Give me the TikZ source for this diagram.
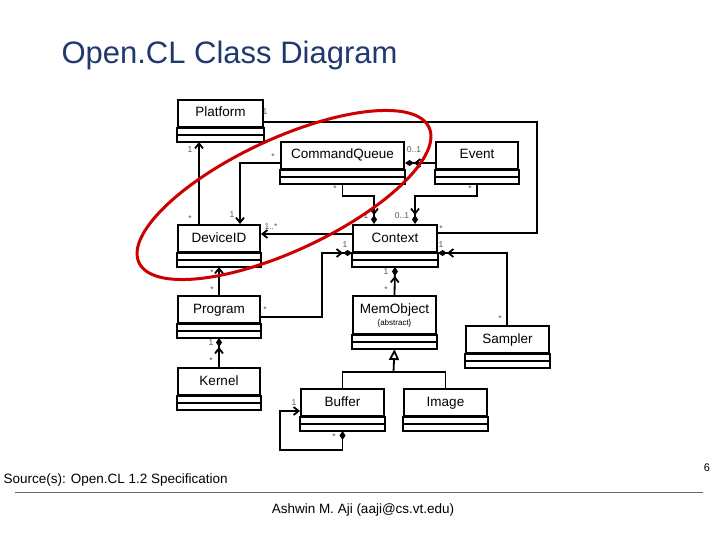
\documentclass[tikz,border=0pt]{standalone}
\usepackage{fontspec}
\setmainfont{Liberation Sans}
\usetikzlibrary{positioning,calc,arrows.meta}
\definecolor{titleblue}{RGB}{31,56,110}
\tikzset{
    % class name compartment
    cls/.style={draw, line width=2pt, rectangle, anchor=north west,
                minimum height=27pt, inner sep=0pt, text height=9.5pt, text depth=2.5pt,
                font=\fontsize{13.5}{15}\selectfont},
    % multiplicity labels
    mult/.style={font=\fontsize{8.5}{9}\selectfont, text=black!65, inner sep=0pt},
    % plain navigable association
    assoc/.style={line width=1.8pt, -{Straight Barb[length=5pt,width=8pt]}},
    % composition with navigable end
    comp/.style={line width=1.8pt, -{Straight Barb[length=5pt,width=8pt]Diamond[length=9pt,width=6pt]}}
}
% name, text, x, y, width
\newcommand{\umlcls}[5]{
  \node[cls, minimum width=#5] (#1) at (#3,#4) {#2};
  \draw[line width=2pt] (#1.south west) rectangle ($(#1.south east)+(0,14)$);
  \draw[line width=1.2pt] ($(#1.south west)+(0,7)$) -- ($(#1.south east)+(0,7)$);
  \coordinate (#1-b) at ($(#1.south)+(0,14)$);
}

\begin{document}
\begin{tikzpicture}[x=1pt, y=-1pt]
\path[use as bounding box] (0,0) rectangle (720,540);

\node[anchor=west, text=titleblue, font=\fontsize{31}{36}\selectfont] (title) at (58,55) {Open.CL Class Diagram};

\umlcls{plat}{Platform}{177}{99}{85}
\umlcls{cq}{CommandQueue}{280}{141}{123}
\umlcls{ev}{Event}{435}{141}{82}
\umlcls{dev}{DeviceID}{177}{224}{82}
\umlcls{ctx}{Context}{352}{224}{84}
\umlcls{prog}{Program}{177}{295}{82}
\node[cls, minimum width=83, minimum height=38pt, align=center, text height=, text depth=] (mem) at (352,295)
   {MemObject\\[-3pt]{\fontsize{8}{9}\selectfont\{abstract\}}};
\draw[line width=2pt] (mem.south west) rectangle ($(mem.south east)+(0,14)$);
\draw[line width=1.2pt] ($(mem.south west)+(0,7)$) -- ($(mem.south east)+(0,7)$);
\coordinate (mem-b) at ($(mem.south)+(0,14)$);
\umlcls{samp}{Sampler}{465}{325}{83}
\umlcls{kern}{Kernel}{177}{367}{82}
\umlcls{buf}{Buffer}{300}{388}{83}
\umlcls{img}{Image}{403}{388}{83}

% associations
\draw[assoc] ([xshift=-20pt]dev.north) -- ([xshift=-20pt]dev.north |- plat-b);
\draw[assoc] ([yshift=-7.5pt]cq.west) -| ([xshift=21pt]dev.north);
\coordinate (cqk) at ($(cq-b)+(0,12)$);
\draw[comp] (cq-b) -- (cqk) -| ([xshift=-21pt]ctx.north);
\coordinate (evk) at ($(ev-b)+(0,12)$);
\draw[comp] (ev-b) -- (evk) -| ([xshift=20pt]ctx.north);
\draw[comp] ([yshift=-7.5pt]ev.west) -- ([yshift=-7.5pt]ev.west -| cq.east);
\draw[assoc] ([yshift=4.5pt]ctx.west) -- ([yshift=4.5pt]ctx.west -| dev.east);
\coordinate (pk) at (537,233);
\draw[line width=1.8pt] ([yshift=-8.5pt]plat.east) -| (pk) -- (pk -| ctx.east);
\coordinate (prk) at (322,253);
\draw[comp] ([yshift=-7.5pt]prog.east) -| (prk) -- (prk -| ctx.west);
\coordinate (sk) at (507,253);
\draw[comp] (samp.north -| sk) -- (sk) -- (sk -| ctx.east);
\draw[comp] (mem.north) -- (ctx-b);
\draw[assoc] (prog.north) -- (dev-b);
\draw[comp] (kern.north) -- (prog-b);
\coordinate (ik) at (393.5,372);
\draw[line width=1.8pt] (buf.north) |- (ik) -| (img.north);
\draw[line width=1.8pt, -{Triangle[open,length=11pt,width=10pt]}] (ik) -- (mem-b);
\coordinate (bk) at (280,450);
\draw[line width=1.8pt, {Diamond[length=9pt,width=6pt]}-{Straight Barb[length=5pt,width=8pt]}]
   (buf-b) |- (bk) |- ([yshift=6pt]buf.south west);

% multiplicities
\node[mult] (m1) at (265,112) {1};
\node[mult] (m2) at (190,150) {1};
\node[mult] (m3) at (190,219) {*};
\node[mult] (m4) at (273,157) {*};
\node[mult] (m5) at (232,215) {1};
\node[mult] (m6) at (414,150) {0..1};
\node[mult] (m7) at (335,189) {*};
\node[mult] (m8) at (470,189) {*};
\node[mult] (m9) at (366,216) {1};
\node[mult] (m10) at (402,216) {0..1};
\node[mult] (m11) at (271,227) {1..*};
\node[mult] (m12) at (345,229) {*};
\node[mult] (m13) at (441,229) {*};
\node[mult] (m14) at (345,245) {1};
\node[mult] (m15) at (441,245) {1};
\node[mult] (m16) at (386,272) {1};
\node[mult] (m17) at (386,290) {*};
\node[mult] (m18) at (212,273) {*};
\node[mult] (m19) at (212,290) {*};
\node[mult] (m20) at (265,310) {*};
\node[mult] (m21) at (500,319) {*};
\node[mult] (m22) at (211,343) {1};
\node[mult] (m23) at (211,361) {*};
\node[mult] (m24) at (294,403) {1};
\node[mult] (m25) at (334,437) {*};

% highlight
\draw[red!80!black, line width=3pt, rotate around={25:(284,195)}] (284,195) ellipse (160 and 56);

% footer
\node[anchor=west, font=\fontsize{13.5}{15}\selectfont] (src) at (0,480) {Source(s): Open.CL 1.2 Specification};
\node[font=\fontsize{11}{13}\selectfont] (pg) at (707,468) {6};
\draw[black!60] (15,492) -- (703,492);
\node[font=\fontsize{13.5}{15}\selectfont] (auth) at (363,510) {Ashwin M. Aji (aaji@cs.vt.edu)};
\end{tikzpicture}
\end{document}
